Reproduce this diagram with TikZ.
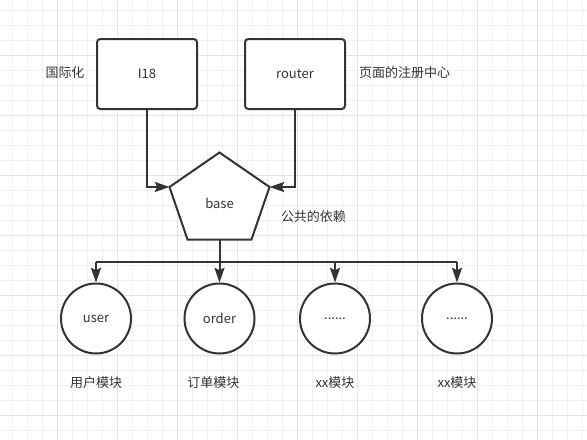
\documentclass[tikz,border=0pt]{standalone}
\usepackage{fontspec}
\setmainfont{Noto Sans CJK SC}
\usetikzlibrary{arrows.meta}
\definecolor{ink}{HTML}{333333}
\definecolor{gridminor}{HTML}{F0F0F0}
\definecolor{gridmajor}{HTML}{E3E3E3}
\tikzset{
  box/.style={draw=ink, line width=1.5pt, rounded corners=2.5pt, fill=white,
    minimum width=75pt, minimum height=52.5pt, inner sep=0pt, text=ink, font=\fontsize{9.75pt}{11pt}\selectfont},
  mod/.style={draw=ink, line width=1.5pt, circle, fill=white,
    minimum size=52.5pt, inner sep=0pt, text=ink, font=\fontsize{9.75pt}{11pt}\selectfont},
  lbl/.style={text=ink, inner sep=0pt, font=\fontsize{9.75pt}{11pt}\selectfont},
  conn/.style={draw=ink, line width=1.5pt},
  arr/.style={conn, -{Stealth[length=11pt, width=7.5pt, inset=1.8pt]}},
}
\begin{document}
\begin{tikzpicture}[x=0.75pt, y=-0.75pt]
\useasboundingbox (0,0) rectangle (587,440);
\fill[white] (0,0) rectangle (587,440);
% grid
\foreach \i in {0,...,38} {\draw[gridminor, line width=0.75pt] ({12.3+15*\i},0) -- ++(0,440);}
\foreach \i in {0,...,29} {\draw[gridminor, line width=0.75pt] (0,{10+15*\i}) -- ++(587,0);}
\foreach \i in {0,...,9} {\draw[gridmajor, line width=0.75pt] ({57.3+60*\i},0) -- ++(0,440);}
\foreach \i in {0,...,6} {\draw[gridmajor, line width=0.75pt] (0,{55+60*\i}) -- ++(587,0);}

% top boxes
\node[box] (i18) at (147,74) {I18};
\node[box] (router) at (295,74) {router};

% base pentagon
\coordinate (btop) at (219.5,152.5);
\coordinate (bright) at (269.5,187);
\coordinate (bbr) at (251.5,239.5);
\coordinate (bbl) at (187.5,239.5);
\coordinate (bleft) at (169.5,187);
\coordinate (bbot) at (219.5,239.5);
\draw[draw=ink, line width=1.5pt, fill=white, line join=miter] (btop) -- (bright) -- (bbr) -- (bbl) -- (bleft) -- cycle;
\node[lbl] (base) at (219.5,203.5) {base};

% modules
\node[mod] (user) at (96,318.5) {user};
\node[mod] (order) at (219.5,318.5) {order};
\node[mod] (m3) at (335,318.5) {......};
\node[mod] (m4) at (457,318.5) {......};

% labels
\node[lbl] (l1) at (65,73) {国际化};
\node[lbl] (l2) at (404.5,73) {页面的注册中心};
\node[lbl] (l3) at (313.5,216.5) {公共的依赖};
\node[lbl] (l4) at (96,382.5) {用户模块};
\node[lbl] (l5) at (213.5,382.5) {订单模块};
\node[lbl] (l6) at (335,382.5) {xx模块};
\node[lbl] (l7) at (457,382.5) {xx模块};

% connectors
\draw[arr] (i18.south) |- (bleft);
\draw[arr] (router.south) |- (bright);
\coordinate (bus) at (219.5,262);
\draw[conn] (user.north |- bus) -- (m4.north |- bus);
\draw[arr] (bbot) -- (order.north);
\draw[arr] (user.north |- bus) -- (user.north);
\draw[arr] (m3.north |- bus) -- (m3.north);
\draw[arr] (m4.north |- bus) -- (m4.north);
\end{tikzpicture}
\end{document}
